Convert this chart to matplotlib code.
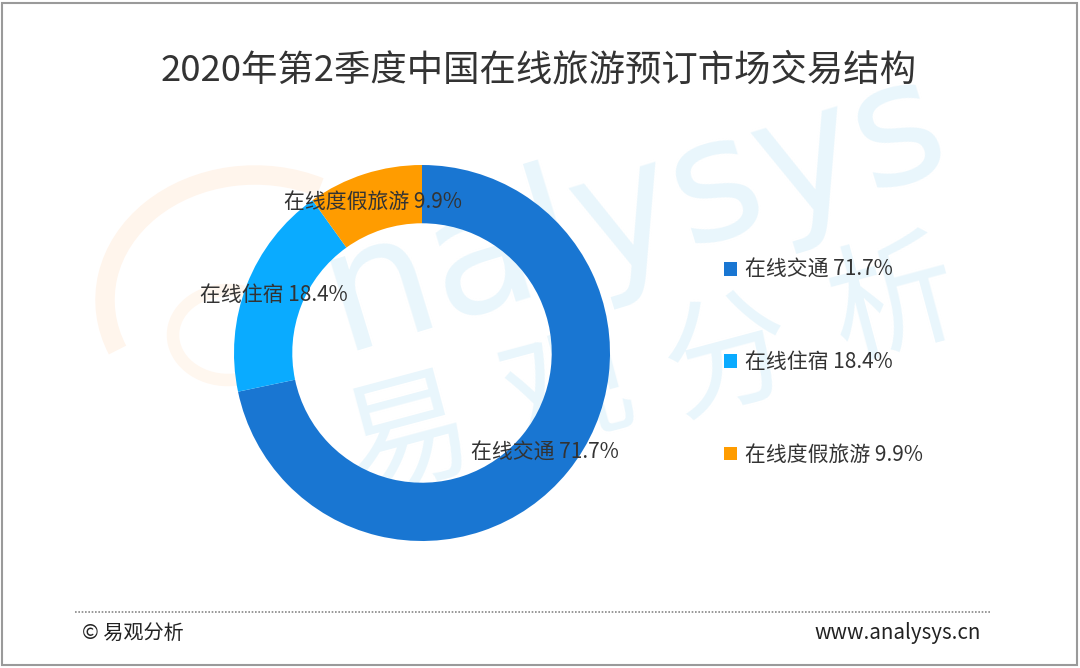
import matplotlib
matplotlib.use("Agg")
import matplotlib.pyplot as plt
import numpy as np
from matplotlib.patches import Rectangle, Arc

plt.rcParams['font.family'] = ['Noto Sans CJK SC', 'DejaVu Sans']

categories = ['在线交通', '在线住宿', '在线度假旅游']
values = [71.7, 18.4, 9.9]
colors = ['#1976d2', '#0aabff', '#ff9c00']
title = '2020年第2季度中国在线旅游预订市场交易结构'

W, H = 1080, 668
fig = plt.figure(figsize=(W / 100, H / 100), dpi=100)
fig.patch.set_facecolor('white')

# background axes in pixel coordinates (y downward) for watermark
bg = fig.add_axes([0, 0, 1, 1], zorder=-1)
bg.set_xlim(0, W)
bg.set_ylim(H, 0)
bg.axis('off')
wm = '#e9f6fc'
bg.add_patch(Arc((255, 300), 300, 250, theta1=160, theta2=300, color='#fff5ec', lw=14))
bg.add_patch(Arc((228, 335), 110, 90, theta1=0, theta2=360, color='#fff7ef', lw=9))
bg.text(635, 212, 'nalysys', fontsize=123, color=wm, rotation=17, ha='center', va='center',
        family=['DejaVu Sans'])
for ch, (x, y) in zip('易观分析', [(408, 440), (568, 397), (729, 360), (895, 305)]):
    bg.text(x, y, ch, fontsize=92, color=wm, rotation=15, ha='center', va='center')

# frame
fig.add_artist(Rectangle((2 / W, 3 / H), 1075 / W, 662 / H, transform=fig.transFigure,
                         fill=False, edgecolor='#9a9a9a', linewidth=1.5))

# donut
cx, cy, R = 422, 353, 188
ax = fig.add_axes([(cx - R) / W, (H - cy - R) / H, 2 * R / W, 2 * R / H], zorder=1)
ax.set_facecolor('none')
wedges, _ = ax.pie(values, colors=colors, startangle=90, counterclock=False,
                   radius=1.0, wedgeprops=dict(width=0.31, edgecolor='none'))
ax.set_xlim(-1, 1)
ax.set_ylim(-1, 1)
ax.set_aspect('auto')
ax.axis('off')

rmid = 1 - 0.31 / 2
for w, c, v in zip(wedges, categories, values):
    ang = np.deg2rad((w.theta1 + w.theta2) / 2)
    ax.text(rmid * np.cos(ang), rmid * np.sin(ang), f'{c} {v}%', ha='center', va='center',
            fontsize=15, color='#333333')

# legend
leg = fig.legend(wedges, [f'{c} {v}%' for c, v in zip(categories, values)],
                 loc='center left', bbox_to_anchor=(705 / W, (H - 362.5) / H),
                 frameon=False, fontsize=15, labelspacing=3.38, handlelength=0.62,
                 handleheight=0.62, handletextpad=0.4, labelcolor='#333333')
leg.set_zorder(2)

# title
fig.text(539 / W, (H - 71) / H, title, ha='center', va='center', fontsize=26.2,
         color='#333333')

# footer
fig.add_artist(plt.Line2D([75 / W, 990 / W], [(H - 612) / H] * 2, transform=fig.transFigure,
                          color='#888888', linewidth=1.2, linestyle=(0, (1, 1))))
fig.text(82 / W, (H - 633) / H, '© 易观分析', ha='left', va='center', fontsize=14.5,
         color='#222222')
fig.text(981 / W, (H - 633) / H, 'www.analysys.cn', ha='right', va='center', fontsize=14.8,
         color='#222222')

fig.savefig('out.png', dpi=100, facecolor='white')
